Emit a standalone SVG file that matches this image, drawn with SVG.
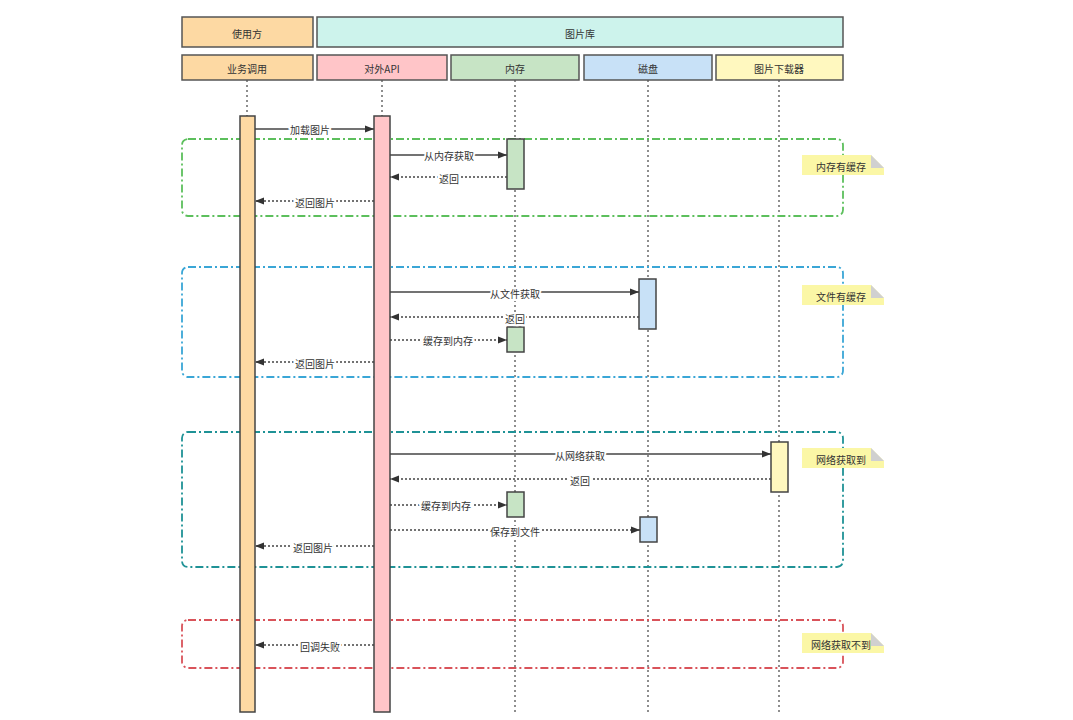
<svg xmlns="http://www.w3.org/2000/svg" width="1073" height="720" viewBox="0 0 1073 720">
<style>
text{font-family:"Noto Sans CJK SC","Liberation Sans",sans-serif;font-size:10px;fill:#333;text-anchor:middle;dominant-baseline:central}
.box{stroke:#555;stroke-width:1.5}
.life{stroke:#444;stroke-width:1.2;stroke-dasharray:2 3}
.act{stroke:#444;stroke-width:1.5}
.sync{stroke:#444;stroke-width:1.3;fill:none}
.ret{stroke:#444;stroke-width:1.3;fill:none;stroke-dasharray:2 2}
.lbl{stroke:#fff;stroke-width:4;paint-order:stroke}
.grp{fill:none;stroke-width:1.8;stroke-dasharray:8 3 2 3}
.note{fill:#fbf7a6}
.fold{fill:#d0d0d0}
</style>
<defs>
<marker id="ah" viewBox="0 0 10 10" refX="10" refY="5" markerWidth="9" markerHeight="9" markerUnits="userSpaceOnUse" orient="auto"><path d="M0,1 L10,5 L0,9 Z" fill="#333"/></marker>
</defs>
<rect width="1073" height="720" fill="#fff"/>
<g id="header-user"><rect class="box" x="182" y="17" width="131" height="30" fill="#fdd9a3"/><text x="247" y="33">使用方</text></g>
<g id="header-lib"><rect class="box" x="317" y="17" width="526" height="30" fill="#cdf3ec"/><text x="580" y="33">图片库</text></g>
<g id="lifelines">
<line class="life" x1="247" y1="80" x2="247" y2="712"/>
<line class="life" x1="382" y1="80" x2="382" y2="712"/>
<line class="life" x1="515" y1="80" x2="515" y2="712"/>
<line class="life" x1="648" y1="80" x2="648" y2="712"/>
<line class="life" x1="779" y1="80" x2="779" y2="712"/>
</g>
<g id="p-caller"><rect class="box" x="182" y="55" width="131" height="25" fill="#fdd9a3"/><text x="247" y="68">业务调用</text></g>
<g id="p-api"><rect class="box" x="317" y="55" width="130" height="25" fill="#ffc5c8"/><text x="382" y="68">对外API</text></g>
<g id="p-mem"><rect class="box" x="451" y="55" width="128" height="25" fill="#c7e4c5"/><text x="515" y="68">内存</text></g>
<g id="p-disk"><rect class="box" x="584" y="55" width="128" height="25" fill="#c8e1f7"/><text x="648" y="68">磁盘</text></g>
<g id="p-dl"><rect class="box" x="716" y="55" width="127" height="25" fill="#fff8bf"/><text x="779" y="68">图片下载器</text></g>
<g id="groups">
<rect class="grp" x="182" y="139" width="661" height="77" rx="6" stroke="#5cbf5c"/>
<rect class="grp" x="182" y="267" width="661" height="110" rx="6" stroke="#3aa6d6"/>
<rect class="grp" x="182" y="432" width="661" height="135" rx="6" stroke="#1f9296"/>
<rect class="grp" x="182" y="620" width="661" height="48" rx="6" stroke="#d9535a"/>
</g>
<g id="activations">
<rect class="act" x="240" y="116" width="15" height="596" fill="#fdd9a3"/>
<rect class="act" x="374" y="116" width="16" height="596" fill="#ffc5c8"/>
<rect class="act" x="507" y="139" width="17" height="50" fill="#c7e4c5"/>
<rect class="act" x="507" y="327" width="17" height="25" fill="#c7e4c5"/>
<rect class="act" x="507" y="492" width="17" height="25" fill="#c7e4c5"/>
<rect class="act" x="639" y="279" width="17" height="50" fill="#c8e1f7"/>
<rect class="act" x="640" y="517" width="17" height="25" fill="#c8e1f7"/>
<rect class="act" x="771" y="442" width="17" height="50" fill="#fff8bf"/>
</g>
<g id="connectors">
<line class="sync" x1="255" y1="129" x2="374" y2="129" marker-end="url(#ah)"/>
<line class="sync" x1="390" y1="155" x2="507" y2="155" marker-end="url(#ah)"/>
<line class="ret" x1="507" y1="177" x2="390" y2="177" marker-end="url(#ah)"/>
<line class="ret" x1="374" y1="201" x2="255" y2="201" marker-end="url(#ah)"/>
<line class="sync" x1="390" y1="292" x2="639" y2="292" marker-end="url(#ah)"/>
<line class="ret" x1="639" y1="317" x2="390" y2="317" marker-end="url(#ah)"/>
<line class="ret" x1="390" y1="340" x2="507" y2="340" marker-end="url(#ah)"/>
<line class="ret" x1="374" y1="362" x2="255" y2="362" marker-end="url(#ah)"/>
<line class="sync" x1="390" y1="454" x2="771" y2="454" marker-end="url(#ah)"/>
<line class="ret" x1="771" y1="479" x2="390" y2="479" marker-end="url(#ah)"/>
<line class="ret" x1="390" y1="505" x2="507" y2="505" marker-end="url(#ah)"/>
<line class="ret" x1="390" y1="530" x2="640" y2="530" marker-end="url(#ah)"/>
<line class="ret" x1="374" y1="546" x2="255" y2="546" marker-end="url(#ah)"/>
<line class="ret" x1="374" y1="645" x2="255" y2="645" marker-end="url(#ah)"/>
<text class="lbl" x="310" y="129">加载图片</text>
<text class="lbl" x="449" y="155">从内存获取</text>
<text class="lbl" x="449" y="178">返回</text>
<text class="lbl" x="315" y="202">返回图片</text>
<text class="lbl" x="515" y="293">从文件获取</text>
<text class="lbl" x="515" y="318">返回</text>
<text class="lbl" x="448" y="340">缓存到内存</text>
<text class="lbl" x="315" y="363">返回图片</text>
<text class="lbl" x="580" y="455">从网络获取</text>
<text class="lbl" x="580" y="480">返回</text>
<text class="lbl" x="446" y="505">缓存到内存</text>
<text class="lbl" x="515" y="531">保存到文件</text>
<text class="lbl" x="313" y="547">返回图片</text>
<text class="lbl" x="320" y="646">回调失败</text>
</g>
<g id="note1"><path class="note" d="M802,155 H871 L884,168 V175 H802 Z"/><path class="fold" d="M871,155 L884,168 H871 Z"/><text x="841" y="166">内存有缓存</text></g>
<g id="note2"><path class="note" d="M802,285 H871 L884,298 V305 H802 Z"/><path class="fold" d="M871,285 L884,298 H871 Z"/><text x="841" y="296">文件有缓存</text></g>
<g id="note3"><path class="note" d="M802,448 H871 L884,461 V468 H802 Z"/><path class="fold" d="M871,448 L884,461 H871 Z"/><text x="841" y="459">网络获取到</text></g>
<g id="note4"><path class="note" d="M802,633 H871 L884,646 V653 H802 Z"/><path class="fold" d="M871,633 L884,646 H871 Z"/><text x="841" y="644">网络获取不到</text></g>
</svg>
